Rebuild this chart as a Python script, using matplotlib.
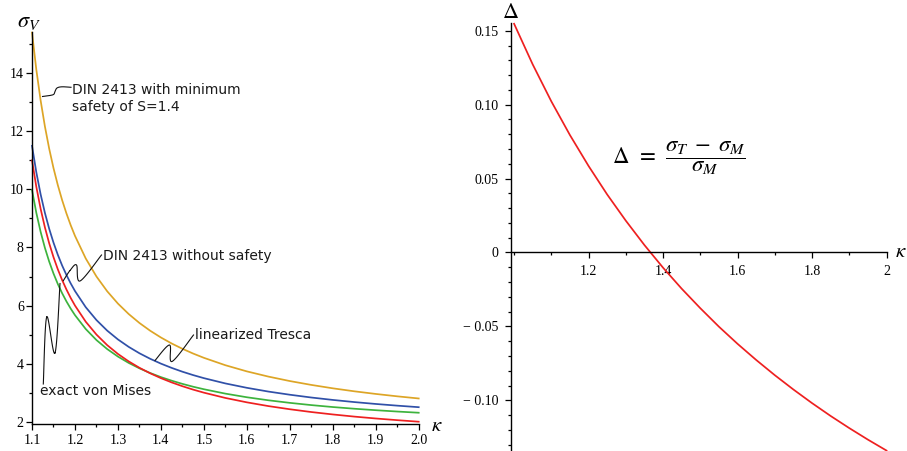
import numpy as np
import matplotlib
matplotlib.use("Agg")
import matplotlib.pyplot as plt
from matplotlib.lines import Line2D
from matplotlib.ticker import MultipleLocator, FixedLocator, FixedFormatter

# ---------------- data ----------------
kappa = [1.10, 1.11, 1.12, 1.13, 1.14, 1.15, 1.16, 1.17, 1.18, 1.19, 1.20,
         1.225, 1.25, 1.275, 1.30, 1.325, 1.35, 1.375, 1.40, 1.425, 1.45, 1.475, 1.50,
         1.55, 1.60, 1.65, 1.70, 1.75, 1.80, 1.85, 1.90, 1.95, 2.00]

din_min_safety = [15.4, 14.127, 13.067, 12.169, 11.4, 10.733, 10.15, 9.635, 9.178, 8.768, 8.4,
                  7.622, 7.0, 6.491, 6.067, 5.708, 5.4, 5.133, 4.9, 4.694, 4.511, 4.347, 4.2,
                  3.945, 3.733, 3.554, 3.4, 3.267, 3.15, 3.047, 2.956, 2.874, 2.8]

din_no_safety = [11.0, 10.091, 9.333, 8.692, 8.143, 7.667, 7.25, 6.882, 6.556, 6.263, 6.0,
                 5.444, 5.0, 4.636, 4.333, 4.077, 3.857, 3.667, 3.5, 3.353, 3.222, 3.105, 3.0,
                 2.818, 2.667, 2.538, 2.429, 2.333, 2.25, 2.176, 2.111, 2.053, 2.0]

tresca_lin = [11.5, 10.591, 9.833, 9.192, 8.643, 8.167, 7.75, 7.382, 7.056, 6.763, 6.5,
              5.944, 5.5, 5.136, 4.833, 4.577, 4.357, 4.167, 4.0, 3.853, 3.722, 3.605, 3.5,
              3.318, 3.167, 3.038, 2.929, 2.833, 2.75, 2.676, 2.611, 2.553, 2.5]

von_mises = [9.980, 9.195, 8.540, 7.987, 7.513, 7.103, 6.744, 6.427, 6.146, 5.895, 5.669,
             5.192, 4.811, 4.501, 4.242, 4.024, 3.838, 3.677, 3.536, 3.413, 3.303, 3.205, 3.118,
             2.967, 2.842, 2.738, 2.649, 2.572, 2.505, 2.447, 2.396, 2.350, 2.309]

kappa_r = [1.00, 1.05, 1.10, 1.15, 1.20, 1.25, 1.30, 1.35, 1.40, 1.45, 1.50,
           1.55, 1.60, 1.65, 1.70, 1.75, 1.80, 1.85, 1.90, 1.95, 2.00]
delta = [0.1547, 0.1272, 0.1022, 0.0794, 0.0585, 0.0392, 0.0215, 0.0050, -0.0103, -0.0245, -0.0377,
         -0.0502, -0.0618, -0.0727, -0.0830, -0.0927, -0.1019, -0.1106, -0.1188, -0.1266, -0.1340]

left_xticks = [1.1, 1.2, 1.3, 1.4, 1.5, 1.6, 1.7, 1.8, 1.9, 2.0]
left_xlabels = ["1.1", "1.2", "1.3", "1.4", "1.5", "1.6", "1.7", "1.8", "1.9", "2.0"]
left_yticks = [2, 4, 6, 8, 10, 12, 14]
right_xticks = [1.2, 1.4, 1.6, 1.8, 2.0]
right_xlabels = ["1.2", "1.4", "1.6", "1.8", "2"]
right_yticks = [-0.10, -0.05, 0.0, 0.05, 0.10, 0.15]
right_ylabels = ["\u2212 0.10", "\u2212 0.05", "0", "0.05", "0.10", "0.15"]

# ---------------- styling ----------------
plt.rcParams['mathtext.fontset'] = 'stix'
C_GOLD = "#DDA526"
C_BLUE = "#3050A8"
C_RED = "#EE2020"
C_GREEN = "#3DB33D"
TICKFONT = dict(family="Liberation Serif", size=10)

W, H = 907, 451
fig = plt.figure(figsize=(W / 100, H / 100), dpi=100)


def fx(px):
    return px / W


def fy(py):
    return 1 - py / H


def style_axes(ax):
    for s in ("top", "right"):
        ax.spines[s].set_visible(False)
    for s in ("left", "bottom"):
        ax.spines[s].set_linewidth(1.0)
    ax.tick_params(which="major", direction="out", length=4, width=0.9, colors="black")
    ax.tick_params(which="minor", direction="out", length=2.5, width=0.9, colors="black")


# ---------------- left panel ----------------
ax1 = fig.add_axes([fx(31.5), fy(424.3), (418.7 - 31.5) / W, (424.3 - 32) / H])
ax1.set_xlim(1.0988, 2.0)
ax1.set_ylim(1.9105, 15.42)
style_axes(ax1)
ax1.plot(kappa, din_min_safety, color=C_GOLD, lw=1.25, clip_on=False)
ax1.plot(kappa, tresca_lin, color=C_BLUE, lw=1.25, clip_on=False)
ax1.plot(kappa, von_mises, color=C_GREEN, lw=1.25, clip_on=False)
ax1.plot(kappa, din_no_safety, color=C_RED, lw=1.25, clip_on=False)
ax1.xaxis.set_major_locator(FixedLocator(left_xticks))
ax1.xaxis.set_major_formatter(FixedFormatter(left_xlabels))
ax1.xaxis.set_minor_locator(MultipleLocator(0.05))
ax1.yaxis.set_major_locator(FixedLocator(left_yticks))
ax1.yaxis.set_minor_locator(MultipleLocator(1))
ax1.tick_params(axis="x", which="major", pad=3)
ax1.tick_params(axis="y", which="major", pad=1.5)
for lab in ax1.get_xticklabels() + ax1.get_yticklabels():
    lab.set_fontfamily(TICKFONT["family"])
    lab.set_fontsize(TICKFONT["size"])

# ---------------- right panel ----------------
ax2 = fig.add_axes([fx(511), 0.0, (886.5 - 511) / W, (451 - 22.6) / H])
ax2.set_xlim(0.9917, 2.0)
ax2.set_ylim(-0.1343, 0.1555)
style_axes(ax2)
ax2.spines["bottom"].set_position(("data", 0))
ax2.plot(kappa_r, delta, color=C_RED, lw=1.25, clip_on=False)
ax2.xaxis.set_major_locator(FixedLocator(right_xticks))
ax2.xaxis.set_major_formatter(FixedFormatter(right_xlabels))
ax2.xaxis.set_minor_locator(FixedLocator([1.0, 1.1, 1.3, 1.5, 1.7, 1.9]))
ax2.yaxis.set_major_locator(FixedLocator(right_yticks))
ax2.yaxis.set_major_formatter(FixedFormatter(right_ylabels))
ax2.yaxis.set_minor_locator(MultipleLocator(0.01))
ax2.tick_params(axis="x", which="major", pad=5)
ax2.tick_params(axis="y", which="major", pad=5)
for lab in ax2.get_xticklabels() + ax2.get_yticklabels():
    lab.set_fontfamily(TICKFONT["family"])
    lab.set_fontsize(TICKFONT["size"])

# ---------------- axis labels ----------------
fig.text(fx(17), fy(22), r"$\sigma_V$", fontsize=16, ha="left", va="center")
fig.text(fx(437), fy(425), r"$\kappa$", fontsize=15, ha="center", va="center")
fig.text(fx(511), fy(12), r"$\Delta$", fontsize=16, ha="center", va="center")
fig.text(fx(901), fy(251), r"$\kappa$", fontsize=15, ha="center", va="center")
fig.text(fx(679), fy(158), r"$\Delta\;\,=\;\,\dfrac{\sigma_T\;-\;\sigma_M}{\sigma_M}$",
         fontsize=16.5, ha="center", va="center")


# ---------------- squiggly annotation connectors ----------------
def catmull(pts, n=24):
    p = np.array(pts, dtype=float)
    p = np.vstack([p[0], p, p[-1]])
    out = []
    t = np.linspace(0, 1, n)[:, None]
    for i in range(1, len(p) - 2):
        p0, p1, p2, p3 = p[i - 1], p[i], p[i + 1], p[i + 2]
        out.append(0.5 * (2 * p1 + (-p0 + p2) * t + (2 * p0 - 5 * p1 + 4 * p2 - p3) * t ** 2
                          + (-p0 + 3 * p1 - 3 * p2 + p3) * t ** 3))
    return np.vstack(out)


def connector(pts):
    c = catmull(pts)
    fig.add_artist(Line2D(fx(c[:, 0]), fy(c[:, 1]), transform=fig.transFigure,
                          color="#111111", lw=0.8))


connector([(42.5, 96.5), (48, 95.8), (53.5, 94.5), (55, 91.5), (57, 88), (62, 86.8), (71, 87.3)])
connector([(63.3, 280.7), (70, 270.5), (76.5, 265), (80, 281), (101.5, 255)])
connector([(43.3, 384), (46.7, 317), (55, 353), (60, 283.5)])
connector([(155, 360.5), (169.5, 345), (172, 361.5), (193.5, 335)])

ann = dict(fontsize=10, family="DejaVu Sans", color="#1a1a1a", va="center", ha="left")
fig.text(fx(72), fy(98.5), "DIN 2413 with minimum\nsafety of S=1.4", linespacing=1.25, **ann)
fig.text(fx(103), fy(256), "DIN 2413 without safety", **ann)
fig.text(fx(195), fy(335), "linearized Tresca", **ann)
fig.text(fx(40), fy(391), "exact von Mises", **ann)

fig.savefig("out.png", dpi=100)
